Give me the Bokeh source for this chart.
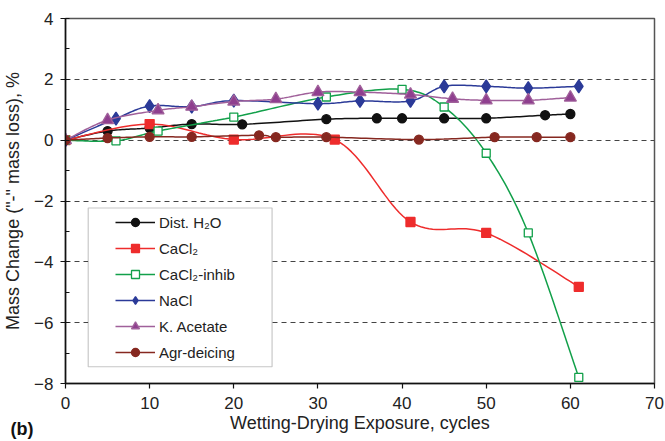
from bokeh.plotting import figure
from bokeh.models import SingleIntervalTicker, Range1d, Title, Legend, LegendItem, BoxAnnotation
from bokeh.embed import file_html
from bokeh.resources import INLINE

# ---- data ----
h2o_x = [0, 5, 10, 15, 21, 31, 37, 40, 45, 50, 57, 60]
h2o_y = [0, 0.3, 0.4, 0.53, 0.52, 0.69, 0.72, 0.72, 0.72, 0.72, 0.82, 0.86]

cacl2_x = [0, 10, 20, 32, 41, 50, 61]
cacl2_y = [0, 0.53, 0.02, 0.02, -2.69, -3.05, -4.82]

inhib_x = [0, 6, 11, 20, 31, 40, 45, 50, 55, 61]
inhib_y = [0, -0.02, 0.3, 0.76, 1.42, 1.67, 1.09, -0.43, -3.05, -7.8]

nacl_x = [0, 6, 10, 15, 20, 30, 35, 41, 45, 50, 55, 61]
nacl_y = [0, 0.71, 1.12, 1.1, 1.3, 1.2, 1.29, 1.29, 1.77, 1.77, 1.71, 1.77]

kac_x = [0, 5, 11, 15, 20, 25, 30, 35, 41, 46, 50, 55, 60]
kac_y = [0, 0.66, 0.98, 1.1, 1.27, 1.35, 1.58, 1.58, 1.5, 1.36, 1.31, 1.31, 1.4]

agr_x = [0, 5, 10, 15, 23, 25, 31, 42, 51, 56, 60]
agr_y = [0, 0.07, 0.11, 0.11, 0.16, 0.1, 0.1, 0.02, 0.1, 0.1, 0.1]

y_ticks = [-8, -6, -4, -2, 0, 2, 4]
x_ticks = [0, 10, 20, 30, 40, 50, 60, 70]


def smooth(xs, ys, n=20):
    """Excel-like smoothed line (Catmull-Rom Bezier) through the data points."""
    px, py = [xs[0]], [ys[0]]
    m = len(xs)
    for i in range(m - 1):
        x0, y0 = (xs[i - 1], ys[i - 1]) if i > 0 else (xs[i], ys[i])
        x1, y1 = xs[i], ys[i]
        x2, y2 = xs[i + 1], ys[i + 1]
        x3, y3 = (xs[i + 2], ys[i + 2]) if i + 2 < m else (xs[i + 1], ys[i + 1])
        c1x, c1y = x1 + (x2 - x0) / 6, y1 + (y2 - y0) / 6
        c2x, c2y = x2 - (x3 - x1) / 6, y2 - (y3 - y1) / 6
        for k in range(1, n + 1):
            t = k / n
            a, b, c, d = (1 - t) ** 3, 3 * (1 - t) ** 2 * t, 3 * (1 - t) * t ** 2, t ** 3
            px.append(a * x1 + b * c1x + c * c2x + d * x2)
            py.append(a * y1 + b * c1y + c * c2y + d * y2)
    return px, py


FONT = "Liberation Sans"

p = figure(width=665, height=441, output_backend="svg", toolbar_location=None,
           x_range=Range1d(0, 70), y_range=Range1d(-8, 4),
           min_border_left=63, min_border_right=11, min_border_top=18, min_border_bottom=58)

p.background_fill_color = "white"
p.border_fill_color = "white"
p.outline_line_color = "#555555"
p.outline_line_width = 1.5

p.xgrid.visible = False
p.ygrid.ticker = SingleIntervalTicker(interval=2)
p.ygrid.grid_line_color = "#444444"
p.ygrid.grid_line_dash = "5 4"
p.ygrid.grid_line_width = 1.2

series = [
    ("Dist. H\u2082O", h2o_x, h2o_y, "#111111", "circle", 9, "#111111", "#111111"),
    ("CaCl\u2082", cacl2_x, cacl2_y, "#ee2c2c", "square", 9, "#ee2c2c", "#ee2c2c"),
    ("CaCl\u2082-inhib", inhib_x, inhib_y, "#12a04a", "square", 8, "white", "#12a04a"),
    ("NaCl", nacl_x, nacl_y, "#2b3a98", "diamond", 13, "#2b3a98", "#2b3a98"),
    ("K. Acetate", kac_x, kac_y, "#a0609a", "triangle", 12, "#8f3f8f", "#a0609a"),
    ("Agr-deicing", agr_x, agr_y, "#862820", "circle", 9, "#862820", "#862820"),
]

items = []
for label, xs, ys, color, marker, size, fill, mline in series:
    sx, sy = smooth(xs, ys)
    r1 = p.line(sx, sy, line_color=color, line_width=1.5)
    r2 = p.scatter(xs, ys, marker=marker, size=size, fill_color=fill, line_color=mline, line_width=1.3)
    items.append(LegendItem(label=label, renderers=[r1, r2]))

# legend frame (white box with border)
p.add_layout(BoxAnnotation(left=2.7, right=24.55, top=-2.23, bottom=-7.45,
                           fill_color="white", fill_alpha=1.0,
                           line_color="#444444", line_width=1.2, level="annotation"))

legend = Legend(items=items, location=(50, 21))
legend.label_text_font = FONT
legend.label_text_font_size = "15px"
legend.label_text_color = "#222222"
legend.glyph_width = 40
legend.glyph_height = 20
legend.label_height = 20
legend.spacing = 6
legend.padding = 5
legend.margin = 0
legend.label_standoff = 4
legend.border_line_color = None
legend.background_fill_alpha = 0
legend.label_text_baseline = "middle"
p.add_layout(legend, "center")

# axes
p.xaxis.ticker = x_ticks
p.yaxis.ticker = SingleIntervalTicker(interval=2, num_minor_ticks=2)
for ax in (p.xaxis, p.yaxis):
    ax.axis_line_color = "#111111"
    ax.axis_line_width = 1.5
    ax.major_tick_line_color = "#111111"
    ax.major_tick_line_width = 1.2
    ax.major_tick_out = 5
    ax.major_tick_in = 0
    ax.major_label_text_font = FONT
    ax.major_label_text_font_size = "17px"
    ax.major_label_text_color = "#222222"
    ax.axis_label_text_font = FONT
    ax.axis_label_text_font_size = "18px"
    ax.axis_label_text_font_style = "normal"
    ax.axis_label_text_color = "#222222"
p.xaxis.minor_tick_line_color = None
p.yaxis.minor_tick_line_color = "#111111"
p.yaxis.minor_tick_in = 4
p.yaxis.minor_tick_out = 0
p.xaxis.major_label_standoff = 8
p.yaxis.major_label_standoff = 7
p.xaxis.axis_label = "Wetting-Drying Exposure, cycles"
p.yaxis.axis_label = "Mass Change (\"-\" mass loss), %"
p.xaxis.axis_label_standoff = 1
p.yaxis.axis_label_standoff = 8

p.add_layout(Title(text="(b)", align="left", offset=-55, standoff=-34, vertical_align="top",
                   text_font=FONT, text_font_size="18px", text_font_style="bold",
                   text_color="#111111"), "below")

open("out.html", "w").write(file_html(p, INLINE))
